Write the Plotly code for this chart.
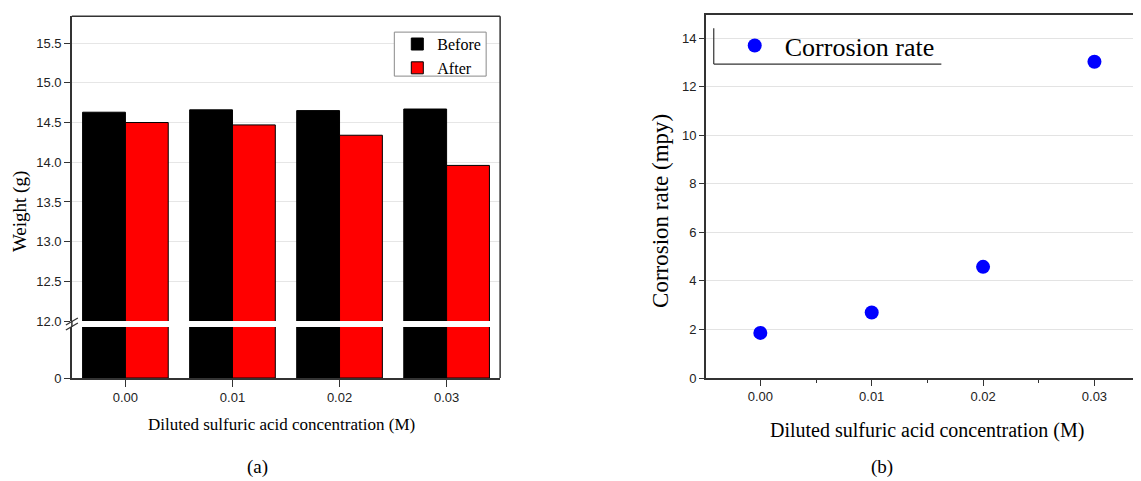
import plotly.graph_objects as go

# ---------------- data ----------------
categories = ["0.00", "0.01", "0.02", "0.03"]
weight_before = [14.63, 14.66, 14.65, 14.67]
weight_after = [14.50, 14.47, 14.34, 13.96]

concentration = [0.00, 0.01, 0.02, 0.03]
corrosion_rate = [1.86, 2.70, 4.58, 13.03]

upper_ticks = [12.0, 12.5, 13.0, 13.5, 14.0, 14.5, 15.0, 15.5]

# ---------------- layout helpers ----------------
OFF = 8
W, H = 1141 - OFF, 481
SY = 489.0 / 481.0
def fx(p):
    return (p - OFF) / W
def fy(p):
    return 1 - (p * SY - OFF) / H

SERIF = "Liberation Serif, Times New Roman, serif"
SANS = "Liberation Sans, Arial, sans-serif"
AX = "#333333"

fig = go.Figure()

# Left chart: upper panel (broken axis) and lower panel
fig.add_trace(go.Bar(x=categories, y=weight_before, name="Before", xaxis="x", yaxis="y",
                     marker=dict(color="#000000", line=dict(color="#000000", width=1)),
                     legend="legend", offsetgroup="b"))
fig.add_trace(go.Bar(x=categories, y=weight_after, name="After", xaxis="x", yaxis="y",
                     marker=dict(color="#ff0000", line=dict(color="#000000", width=1)),
                     legend="legend", offsetgroup="a"))
fig.add_trace(go.Bar(x=categories, y=weight_before, name="Before", xaxis="x", yaxis="y2",
                     marker=dict(color="#000000", line=dict(color="#000000", width=1)),
                     showlegend=False, offsetgroup="b"))
fig.add_trace(go.Bar(x=categories, y=weight_after, name="After", xaxis="x", yaxis="y2",
                     marker=dict(color="#ff0000", line=dict(color="#000000", width=1)),
                     showlegend=False, offsetgroup="a"))

# Right chart: scatter
fig.add_trace(go.Scatter(x=concentration, y=corrosion_rate, mode="markers", name="Corrosion rate",
                         xaxis="x3", yaxis="y3", legend="legend2",
                         marker=dict(color="#0000ff", size=14)))

x_left = [fx(72), fx(501)]
y_up = [fy(321), fy(16)]
y_low = [fy(378), fy(327)]
x_right = [fx(707), 1.0]
y_right = [fy(378), fy(15)]

fig.update_layout(
    width=W, height=H,
    margin=dict(l=0, r=0, t=0, b=0),
    paper_bgcolor="white", plot_bgcolor="white",
    barmode="group", bargap=0.2, bargroupgap=0,
    xaxis=dict(domain=x_left, anchor="y2", type="category", range=[-0.5, 3.5],
               showline=True, linecolor=AX, linewidth=1.5,
               ticks="outside", ticklen=7, tickcolor=AX, tickwidth=1.2,
               tickfont=dict(family=SANS, size=13, color="#222"), showgrid=False),
    yaxis=dict(domain=y_up, anchor="x", range=[12, 15.84], tickvals=upper_ticks,
               tickformat=".1f", showline=True, linecolor=AX, linewidth=1.5,
               ticks="outside", ticklen=6, tickcolor=AX, tickwidth=1.2,
               tickfont=dict(family=SANS, size=13, color="#222"),
               showgrid=True, gridcolor="#e6e6e6", gridwidth=1, zeroline=False),
    yaxis2=dict(domain=y_low, anchor="x", range=[0, 1], tickvals=[0],
                showline=True, linecolor=AX, linewidth=1.5,
                ticks="outside", ticklen=6, tickcolor=AX, tickwidth=1.2,
                tickfont=dict(family=SANS, size=13, color="#222"),
                showgrid=False, zeroline=False),
    xaxis3=dict(domain=x_right, anchor="y3", range=[-0.0049, 0.034],
                tickvals=concentration, tickformat=".2f",
                showline=True, linecolor=AX, linewidth=1.5, mirror=True,
                ticks="outside", ticklen=6, tickcolor=AX, tickwidth=1.2,
                minor=dict(ticks="outside", dtick=0.005, tick0=0, ticklen=3, tickcolor=AX),
                tickfont=dict(family=SANS, size=13, color="#222"),
                showgrid=False, zeroline=False),
    yaxis3=dict(domain=y_right, anchor="x3", range=[0, 14.95], dtick=2, tick0=0,
                showline=True, linecolor=AX, linewidth=1.5, mirror=True,
                ticks="outside", ticklen=5, tickcolor=AX, tickwidth=1.2,
                tickfont=dict(family=SANS, size=13, color="#222"),
                showgrid=True, gridcolor="#e3e3e3", gridwidth=1, zeroline=False),
    legend=dict(x=fx(398), y=fy(27), xanchor="left", yanchor="top",
                bgcolor="rgba(255,255,255,0)", borderwidth=0,
                font=dict(family=SERIF, size=16, color="#000"),
                tracegroupgap=0, itemwidth=30),
    legend2=dict(x=fx(726), y=fy(22), xanchor="left", yanchor="top",
                 bgcolor="rgba(255,255,255,0)", borderwidth=0,
                 font=dict(family=SERIF, size=26, color="#000"), itemwidth=50),
    showlegend=True,
)

shapes = []
# left legend box
shapes.append(dict(type="rect", xref="paper", yref="paper", x0=fx(395), x1=fx(487), y0=fy(32), y1=fy(76),
                   fillcolor="white", line=dict(color="#8a8a8a", width=1), layer="above"))
# left chart frame: top border and right border
shapes.append(dict(type="line", xref="paper", yref="paper", x0=fx(72), x1=fx(501), y0=fy(16), y1=fy(16),
                   line=dict(color=AX, width=1.5)))
shapes.append(dict(type="line", xref="paper", yref="paper", x0=fx(501), x1=fx(501), y0=fy(16), y1=fy(378),
                   line=dict(color=AX, width=1.5)))
# axis continuation through the break and break marks
shapes.append(dict(type="line", xref="paper", yref="paper", x0=fx(72), x1=fx(72), y0=fy(321), y1=fy(327),
                   line=dict(color=AX, width=1.5)))
shapes.append(dict(type="line", xref="paper", yref="paper", x0=fx(66), x1=fx(78), y0=fy(325), y1=fy(318),
                   line=dict(color=AX, width=1.3)))
shapes.append(dict(type="line", xref="paper", yref="paper", x0=fx(66), x1=fx(78), y0=fy(330), y1=fy(323),
                   line=dict(color=AX, width=1.3)))
# right legend partial frame (left and bottom edges)
shapes.append(dict(type="line", xref="paper", yref="paper", x0=fx(715), x1=fx(715), y0=fy(28), y1=fy(64),
                   line=dict(color=AX, width=1.2)))
shapes.append(dict(type="line", xref="paper", yref="paper", x0=fx(715), x1=fx(943), y0=fy(64), y1=fy(64),
                   line=dict(color=AX, width=1.2)))
fig.update_layout(shapes=shapes)

annotations = [
    dict(text="Weight (g)", x=fx(20), y=fy(211), textangle=-90,
         font=dict(family=SERIF, size=19, color="#000")),
    dict(text="Diluted sulfuric acid concentration (M)", x=fx(282), y=fy(424),
         font=dict(family=SERIF, size=17, color="#000")),
    dict(text="(a)", x=fx(258), y=fy(467), font=dict(family=SERIF, size=19, color="#000")),
    dict(text="Corrosion rate (mpy)", x=fx(661), y=fy(211), textangle=-90,
         font=dict(family=SERIF, size=23, color="#000")),
    dict(text="Diluted sulfuric acid concentration (M)", x=fx(929), y=fy(430),
         font=dict(family=SERIF, size=20, color="#000")),
    dict(text="(b)", x=fx(884), y=fy(467), font=dict(family=SERIF, size=19, color="#000")),
]
for a in annotations:
    a.update(xref="paper", yref="paper", showarrow=False, xanchor="center", yanchor="middle")
fig.update_layout(annotations=annotations)

fig.write_html("out.html")
